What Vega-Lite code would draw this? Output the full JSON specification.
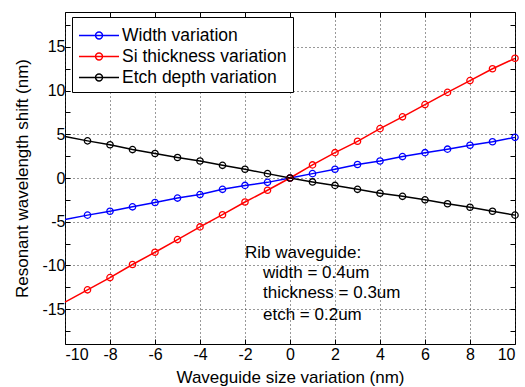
{
  "$schema": "https://vega.github.io/schema/vega-lite/v6.json",
  "width": 450,
  "height": 332,
  "autosize": {"type": "none"},
  "padding": {"left": 65, "top": 12, "right": 10, "bottom": 43},
  "background": "white",
  "config": {
    "font": "Liberation Sans",
    "view": {"stroke": "black", "strokeWidth": 1},
    "axis": {
      "labelFont": "Liberation Sans",
      "labelFontSize": 16,
      "labelColor": "black",
      "titleFont": "Liberation Sans",
      "titleFontSize": 17,
      "titleFontWeight": "normal",
      "titleColor": "black",
      "tickColor": "black",
      "domainColor": "black",
      "gridColor": "#333333",
      "gridDash": [1, 3],
      "gridWidth": 1
    }
  },
  "datasets": {
    "series": [
      {"x": -10, "shift": -4.75, "series": "Width variation"},
      {"x": -9, "shift": -4.25, "series": "Width variation"},
      {"x": -8, "shift": -3.8, "series": "Width variation"},
      {"x": -7, "shift": -3.3, "series": "Width variation"},
      {"x": -6, "shift": -2.8, "series": "Width variation"},
      {"x": -5, "shift": -2.3, "series": "Width variation"},
      {"x": -4, "shift": -1.9, "series": "Width variation"},
      {"x": -3, "shift": -1.3, "series": "Width variation"},
      {"x": -2, "shift": -0.85, "series": "Width variation"},
      {"x": -1, "shift": -0.5, "series": "Width variation"},
      {"x": 0, "shift": 0, "series": "Width variation"},
      {"x": 1, "shift": 0.5, "series": "Width variation"},
      {"x": 2, "shift": 1.0, "series": "Width variation"},
      {"x": 3, "shift": 1.55, "series": "Width variation"},
      {"x": 4, "shift": 1.95, "series": "Width variation"},
      {"x": 5, "shift": 2.45, "series": "Width variation"},
      {"x": 6, "shift": 2.9, "series": "Width variation"},
      {"x": 7, "shift": 3.3, "series": "Width variation"},
      {"x": 8, "shift": 3.75, "series": "Width variation"},
      {"x": 9, "shift": 4.15, "series": "Width variation"},
      {"x": 10, "shift": 4.65, "series": "Width variation"},
      {"x": -10, "shift": -14.2, "series": "Si thickness variation"},
      {"x": -9, "shift": -12.8, "series": "Si thickness variation"},
      {"x": -8, "shift": -11.4, "series": "Si thickness variation"},
      {"x": -7, "shift": -9.9, "series": "Si thickness variation"},
      {"x": -6, "shift": -8.5, "series": "Si thickness variation"},
      {"x": -5, "shift": -7.05, "series": "Si thickness variation"},
      {"x": -4, "shift": -5.6, "series": "Si thickness variation"},
      {"x": -3, "shift": -4.2, "series": "Si thickness variation"},
      {"x": -2, "shift": -2.75, "series": "Si thickness variation"},
      {"x": -1, "shift": -1.4, "series": "Si thickness variation"},
      {"x": 0, "shift": 0, "series": "Si thickness variation"},
      {"x": 1, "shift": 1.5, "series": "Si thickness variation"},
      {"x": 2, "shift": 2.9, "series": "Si thickness variation"},
      {"x": 3, "shift": 4.2, "series": "Si thickness variation"},
      {"x": 4, "shift": 5.65, "series": "Si thickness variation"},
      {"x": 5, "shift": 7.0, "series": "Si thickness variation"},
      {"x": 6, "shift": 8.4, "series": "Si thickness variation"},
      {"x": 7, "shift": 9.8, "series": "Si thickness variation"},
      {"x": 8, "shift": 11.15, "series": "Si thickness variation"},
      {"x": 9, "shift": 12.5, "series": "Si thickness variation"},
      {"x": 10, "shift": 13.7, "series": "Si thickness variation"},
      {"x": -10, "shift": 4.75, "series": "Etch depth variation"},
      {"x": -9, "shift": 4.25, "series": "Etch depth variation"},
      {"x": -8, "shift": 3.8, "series": "Etch depth variation"},
      {"x": -7, "shift": 3.25, "series": "Etch depth variation"},
      {"x": -6, "shift": 2.8, "series": "Etch depth variation"},
      {"x": -5, "shift": 2.35, "series": "Etch depth variation"},
      {"x": -4, "shift": 1.95, "series": "Etch depth variation"},
      {"x": -3, "shift": 1.45, "series": "Etch depth variation"},
      {"x": -2, "shift": 1.0, "series": "Etch depth variation"},
      {"x": -1, "shift": 0.5, "series": "Etch depth variation"},
      {"x": 0, "shift": 0, "series": "Etch depth variation"},
      {"x": 1, "shift": -0.45, "series": "Etch depth variation"},
      {"x": 2, "shift": -0.85, "series": "Etch depth variation"},
      {"x": 3, "shift": -1.3, "series": "Etch depth variation"},
      {"x": 4, "shift": -1.75, "series": "Etch depth variation"},
      {"x": 5, "shift": -2.1, "series": "Etch depth variation"},
      {"x": 6, "shift": -2.5, "series": "Etch depth variation"},
      {"x": 7, "shift": -2.95, "series": "Etch depth variation"},
      {"x": 8, "shift": -3.35, "series": "Etch depth variation"},
      {"x": 9, "shift": -3.8, "series": "Etch depth variation"},
      {"x": 10, "shift": -4.25, "series": "Etch depth variation"}
    ],
    "notes": [
      {"note": "Rib waveguide:", "nx": -2.0, "ny": -8.6},
      {"note": "width = 0.4um", "nx": -1.2, "ny": -10.9},
      {"note": "thickness = 0.3um", "nx": -1.2, "ny": -13.2},
      {"note": "etch = 0.2um", "nx": -1.2, "ny": -15.7}
    ]
  },
  "resolve": {"axis": {"x": "independent", "y": "independent"}},
  "layer": [
    {
      "data": {"name": "series"},
      "mark": {"type": "point", "opacity": 0},
      "encoding": {
        "x": {"field": "x", "type": "quantitative", "scale": {"domain": [-10, 10], "nice": false},
          "axis": {"orient": "bottom", "values": [-10, -8, -6, -4, -2, 0, 2, 4, 6, 8, 10],
            "labelExpr": "'' + datum.value", "title": "Waveguide size variation (nm)",
            "tickSize": -5, "labelPadding": 7, "titlePadding": 7, "domain": false, "grid": true}},
        "y": {"field": "shift", "type": "quantitative", "scale": {"domain": [-19, 19], "nice": false, "zero": false},
          "axis": {"orient": "left", "values": [-17.5, -15, -12.5, -10, -7.5, -5, -2.5, 0, 2.5, 5, 7.5, 10, 12.5, 15, 17.5],
            "labelExpr": "datum.value % 5 === 0 ? '' + datum.value : ''", "title": "Resonant wavelength shift (nm)",
            "tickSize": -5, "labelPadding": 5, "titlePadding": 10, "domain": false, "grid": true,
            "gridOpacity": {"condition": {"test": "datum.value % 5 === 0", "value": 1}, "value": 0}}}
      }
    },
    {
      "data": {"name": "series"},
      "mark": {"type": "point", "opacity": 0},
      "encoding": {
        "x": {"field": "x", "type": "quantitative",
          "axis": {"orient": "top", "values": [-10, -8, -6, -4, -2, 0, 2, 4, 6, 8, 10], "labels": false, "title": null, "tickSize": -5, "domain": false, "grid": false}},
        "y": {"field": "shift", "type": "quantitative",
          "axis": {"orient": "right", "values": [-17.5, -15, -12.5, -10, -7.5, -5, -2.5, 0, 2.5, 5, 7.5, 10, 12.5, 15, 17.5], "labels": false, "title": null, "tickSize": -5, "domain": false, "grid": false}}
      }
    },
    {
      "mark": {"type": "rect", "fill": "white"},
      "encoding": {
        "x": {"datum": -2.2, "type": "quantitative", "axis": null},
        "x2": {"datum": 5.4},
        "y": {"datum": -6.4, "type": "quantitative", "axis": null},
        "y2": {"datum": -17.5}
      }
    },
    {
      "data": {"name": "series"},
      "mark": {"type": "line", "strokeWidth": 1.5},
      "encoding": {
        "x": {"field": "x", "type": "quantitative", "axis": null},
        "y": {"field": "shift", "type": "quantitative", "axis": null},
        "color": {"field": "series", "type": "nominal",
          "scale": {"domain": ["Width variation", "Si thickness variation", "Etch depth variation"], "range": ["#0000ff", "#ff0000", "#000000"]},
          "legend": {"orient": "none", "legendX": 7, "legendY": 5, "title": null,
            "symbolType": "M-1,0H2.48M1.04,0A0.3,0.3,0,1,1,0.44,0A0.3,0.3,0,1,1,1.04,0",
            "symbolSize": 529, "symbolStrokeWidth": 1.5, "symbolFillColor": "transparent",
            "labelFont": "Liberation Sans", "labelFontSize": 17.5, "labelColor": "black", "labelOffset": 19, "labelLimit": 400,
            "strokeColor": "black", "fillColor": "white", "padding": 6, "rowPadding": 0}},
        "order": {"field": "x", "type": "quantitative"}
      }
    },
    {
      "data": {"name": "series"},
      "transform": [{"filter": "datum.x > -10"}],
      "mark": {"type": "point", "shape": "circle", "filled": false, "size": 40, "strokeWidth": 1.3, "opacity": 1},
      "encoding": {
        "x": {"field": "x", "type": "quantitative", "axis": null},
        "y": {"field": "shift", "type": "quantitative", "axis": null},
        "color": {"field": "series", "type": "nominal", "legend": null}
      }
    },
    {
      "data": {"name": "notes"},
      "mark": {"type": "text", "align": "left", "baseline": "middle", "font": "Liberation Sans", "fontSize": 17, "color": "black"},
      "encoding": {
        "x": {"field": "nx", "type": "quantitative", "axis": null},
        "y": {"field": "ny", "type": "quantitative", "axis": null},
        "text": {"field": "note", "type": "nominal"}
      }
    }
  ]
}
